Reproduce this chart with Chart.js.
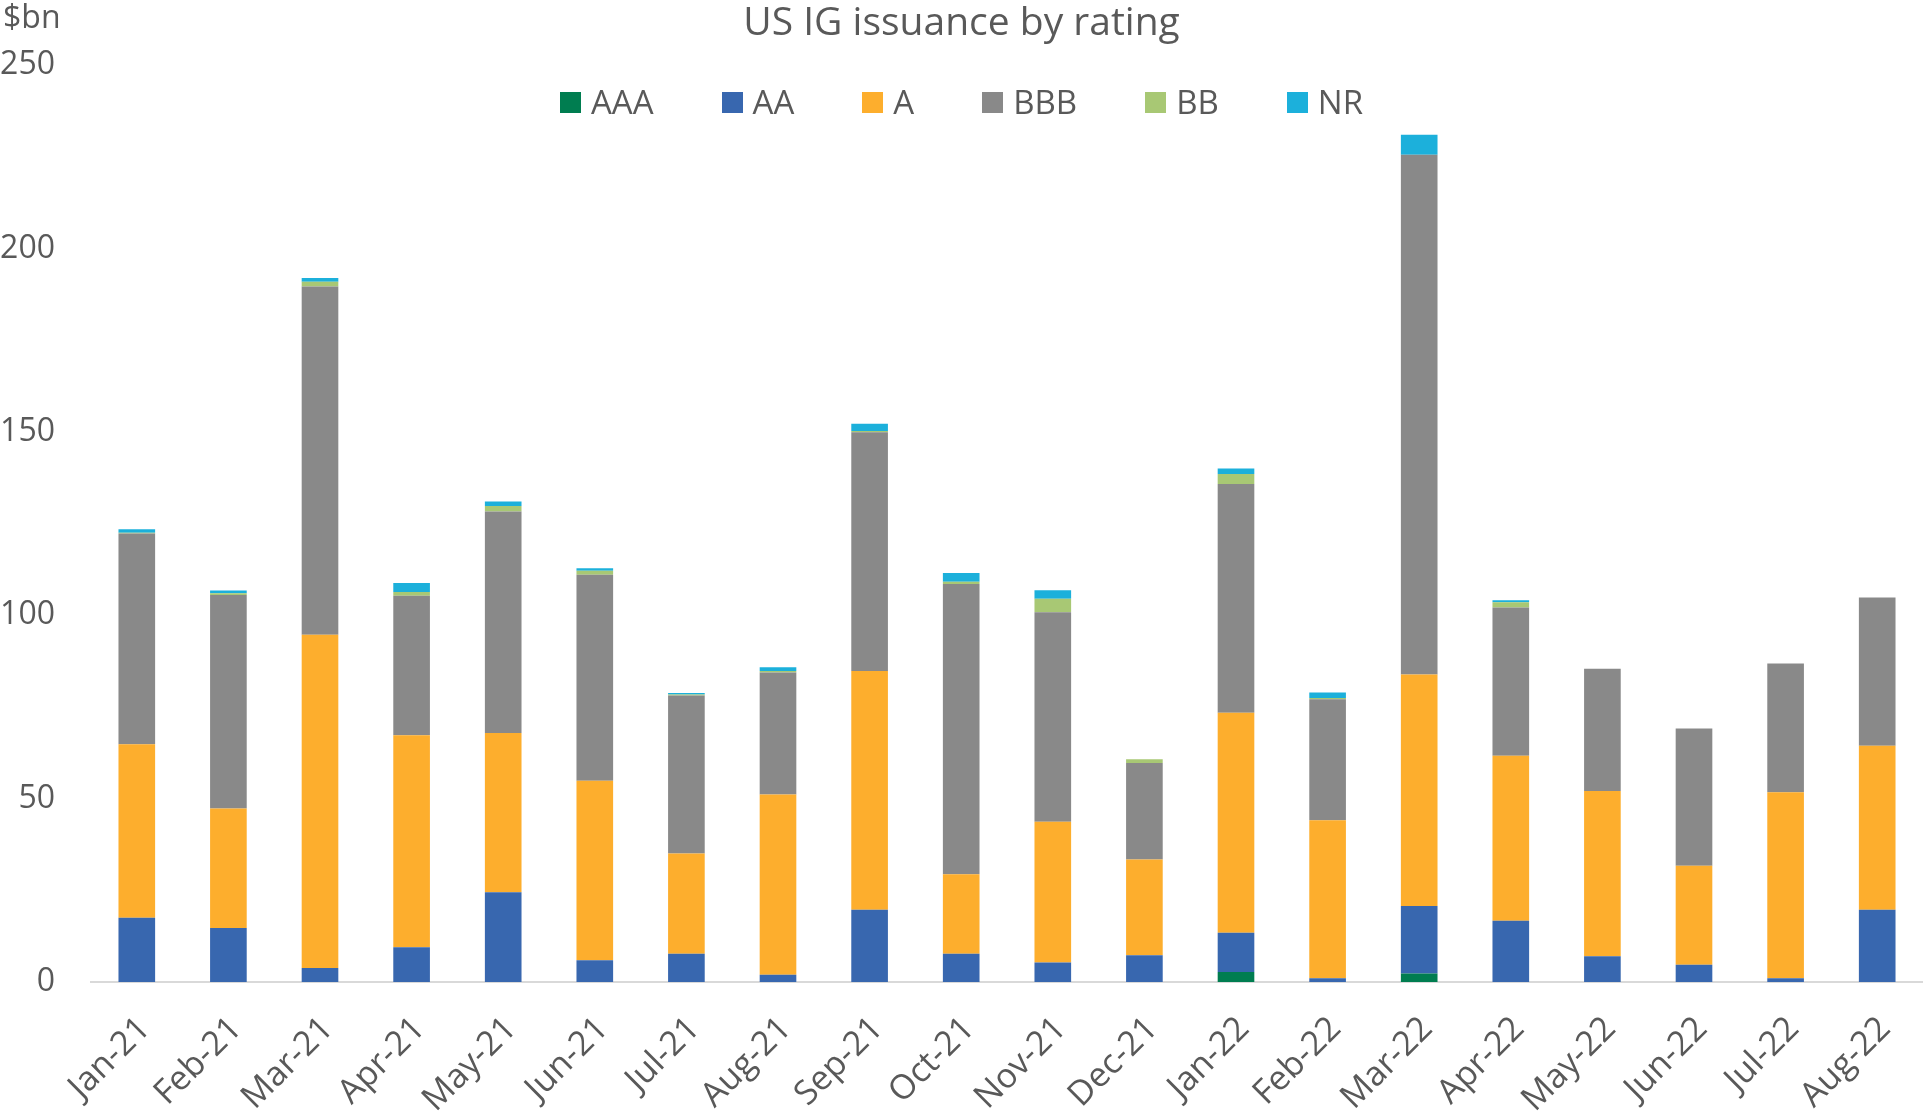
<!DOCTYPE html>
<html>
<head>
<meta charset="utf-8">
<title>US IG issuance by rating</title>
<script src="https://cdn.jsdelivr.net/npm/chart.js@4.4.0/dist/chart.umd.min.js"></script>
<style>
  html, body { margin: 0; padding: 0; background: #fff; overflow: hidden; }
  #wrap { position: relative; width: 1923px; height: 1113px; font-family: 'Open Sans', sans-serif; color: #595959; }
  #chart { position: absolute; left: 0; top: 0; }
  #title { position: absolute; top: -2px; left: 0; width: 1923px; text-align: center; font-size: 39px; line-height: 44px; }
  #unit { position: absolute; left: 3px; top: -3px; font-size: 32px; line-height: 38px; }
  #legend { position: absolute; top: 83px; left: 0; width: 1923px; display: flex; justify-content: center; font-size: 33px; line-height: 38px; }
  .item { display: flex; align-items: center; margin: 0 34px; }
  .box { width: 21px; height: 21px; margin-right: 10px; }
</style>
</head>
<body>
<div id="wrap">
  <canvas id="chart" width="1923" height="1113"></canvas>
  <div id="unit">$bn</div>
  <div id="title">US IG issuance by rating</div>
  <div id="legend"></div>
</div>
<script>
// --- Data ($bn) ---
const months = ['Jan-21', 'Feb-21', 'Mar-21', 'Apr-21', 'May-21', 'Jun-21', 'Jul-21', 'Aug-21', 'Sep-21', 'Oct-21',
  'Nov-21', 'Dec-21', 'Jan-22', 'Feb-22', 'Mar-22', 'Apr-22', 'May-22', 'Jun-22', 'Jul-22', 'Aug-22'];

const aaa = [0, 0, 0, 0, 0, 0, 0, 0, 0, 0, 0, 0, 2.7, 0, 2.3, 0, 0, 0, 0, 0];
const aa  = [17.5, 14.7, 3.8, 9.5, 24.5, 5.9, 7.7, 2.0, 19.7, 7.7, 5.3, 7.3, 10.7, 1.0, 18.4, 16.7, 7.0, 4.7, 1.0, 19.7];
const a   = [47.3, 32.6, 90.9, 57.8, 43.4, 49.0, 27.3, 49.1, 65.1, 21.7, 38.4, 26.1, 60.0, 43.1, 63.1, 45.0, 45.1, 27.0, 50.7, 44.7];
const bbb = [57.5, 58.2, 94.9, 38.0, 60.4, 56.1, 43.1, 33.3, 65.1, 79.1, 57.1, 26.3, 62.4, 33.0, 141.7, 40.4, 33.3, 37.4, 35.1, 40.4];
const bb  = [0.2, 0.5, 1.3, 1.0, 1.5, 1.1, 0.3, 0.4, 0.3, 0.6, 3.7, 1.0, 2.7, 0.3, 0, 1.4, 0, 0, 0, 0];
const nr  = [0.9, 0.7, 1.0, 2.5, 1.2, 0.7, 0.4, 1.0, 2.0, 2.4, 2.3, 0, 1.5, 1.5, 5.5, 0.6, 0, 0, 0, 0];

const yTicks = [0, 50, 100, 150, 200, 250];

const series = [
  { label: 'AAA', data: aaa, color: '#007d50' },
  { label: 'AA',  data: aa,  color: '#3867af' },
  { label: 'A',   data: a,   color: '#fdae2d' },
  { label: 'BBB', data: bbb, color: '#898989' },
  { label: 'BB',  data: bb,  color: '#a8c874' },
  { label: 'NR',  data: nr,  color: '#1cb0db' }
];

const textColor = '#595959';
const fontFamily = "'Open Sans', sans-serif";

// --- Chart ---
const ctx = document.getElementById('chart');

const chart = new Chart(ctx, {
  type: 'bar',
  data: {
    labels: months,
    datasets: series.map(s => ({
      label: s.label,
      data: s.data,
      backgroundColor: s.color,
      borderWidth: 0,
      barPercentage: 0.4,
      categoryPercentage: 1
    }))
  },
  options: {
    responsive: false,
    animation: false,
    devicePixelRatio: 1,
    layout: { padding: { top: 65, left: 0, right: 0, bottom: 0 } },
    plugins: {
      legend: { display: false },
      title: { display: false },
      tooltip: { enabled: false }
    },
    scales: {
      x: {
        stacked: true,
        grid: { display: false, drawTicks: false },
        border: { display: true, color: '#d9d9d9', width: 2 },
        ticks: {
          color: textColor, font: { family: fontFamily, size: 34 },
          minRotation: 45, maxRotation: 45, padding: 27, labelOffset: 8, autoSkip: false
        },
        afterFit: s => { s.height = 131; s.paddingLeft = 0; s.paddingRight = 0; }
      },
      y: {
        stacked: true,
        min: 0,
        max: 250,
        grid: { display: false, drawTicks: false },
        border: { display: false },
        afterBuildTicks: s => { s.ticks = yTicks.map(v => ({ value: v })); },
        ticks: { color: textColor, font: { family: fontFamily, size: 32 }, padding: 36 },
        afterFit: s => { s.width = 91; }
      }
    }
  }
});

// --- Legend (built from the datasets) ---
const legend = document.getElementById('legend');
chart.data.datasets.forEach(ds => {
  const item = document.createElement('div');
  item.className = 'item';
  const box = document.createElement('span');
  box.className = 'box';
  box.style.background = ds.backgroundColor;
  const txt = document.createElement('span');
  txt.textContent = ds.label;
  item.appendChild(box);
  item.appendChild(txt);
  legend.appendChild(item);
});
</script>
</body>
</html>
